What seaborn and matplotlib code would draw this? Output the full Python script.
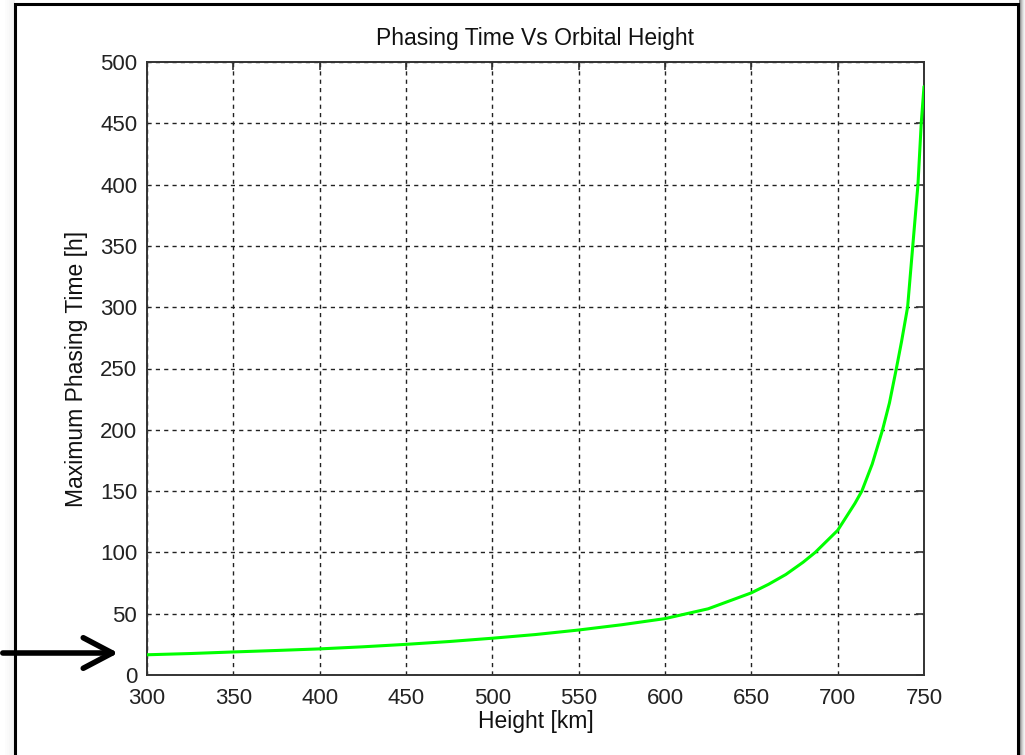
import matplotlib
matplotlib.use("Agg")
import matplotlib.pyplot as plt
from matplotlib.patches import Rectangle, FancyArrowPatch
import seaborn as sns
import pandas as pd

# Orbital height [km] and the corresponding maximum phasing time [h]
height_km = [300, 325, 350, 375, 400, 425, 450, 475, 500, 525, 550, 575, 600,
             625, 650, 660, 670, 680, 687, 700, 710, 714, 720, 726, 730, 734,
             737, 740.5, 743.5, 746.5, 748.4, 750]
phasing_h = [16.5, 17.5, 18.8, 20, 21.3, 23, 25, 27.3, 30, 33, 36.7, 41, 46,
             54, 67, 74, 82, 92, 100, 118, 140, 150, 172, 200, 222, 250,
             272, 300, 350, 400, 450, 480]

x_ticks = [300, 350, 400, 450, 500, 550, 600, 650, 700, 750]
y_ticks = [0, 50, 100, 150, 200, 250, 300, 350, 400, 450, 500]

df = pd.DataFrame({"Height": height_km, "Phasing": phasing_h})

sns.set_style("white")
plt.rcParams["font.family"] = ["Liberation Sans", "DejaVu Sans"]

W, H = 1025, 755
fig = plt.figure(figsize=(W / 100, H / 100), dpi=100)
fig.patch.set_facecolor("white")

# window frame with a soft shadow on the right edge
for i, a in enumerate([0.55, 0.4, 0.28, 0.18, 0.1, 0.05]):
    fig.patches.append(Rectangle(((1019 + i) / W, -0.1), 1 / W, 1.2,
                                 transform=fig.transFigure, facecolor="black",
                                 alpha=a, edgecolor="none", zorder=0))
for i, a in enumerate([0.05, 0.04, 0.03, 0.02, 0.01]):
    fig.patches.append(Rectangle(((13 - 2 * i) / W, -0.1), 2 / W, 1.2,
                                 transform=fig.transFigure, facecolor="black",
                                 alpha=a, edgecolor="none", zorder=0))
fig.patches.append(Rectangle((15 / W, -0.1), (1018 - 15) / W, 1.1 - 4 / H,
                             transform=fig.transFigure, facecolor="none",
                             edgecolor="black", linewidth=2.2, zorder=1))

ax = fig.add_axes([147 / W, 1 - 675 / H, (924 - 147) / W, (675 - 62) / H])
sns.lineplot(data=df, x="Height", y="Phasing", ax=ax, color="#00ff00",
             linewidth=2.2, zorder=3)

ax.set_xlim(300, 750)
ax.set_ylim(0, 500)
ax.set_xticks(x_ticks)
ax.set_yticks(y_ticks)
ax.set_xticklabels([str(v) for v in x_ticks])
ax.set_yticklabels([str(v) for v in y_ticks])

ax.grid(True, color="#222222", linestyle=(0, (3, 3)), linewidth=1.0)
for s in ax.spines.values():
    s.set_color("#333333")
    s.set_linewidth(1.4)

ax.tick_params(direction="in", length=6, width=1.2, color="#333333",
               top=True, right=True, labelsize=16, labelcolor="#222222")
ax.tick_params(axis="y", pad=7)
ax.tick_params(axis="x", pad=9)

ax.set_title("Phasing Time Vs Orbital Height", fontsize=16.5, color="#111111",
             pad=12)
ax.set_xlabel("Height [km]", fontsize=16.5, color="#111111", labelpad=1)
ax.set_ylabel("Maximum Phasing Time [h]", fontsize=16.5, color="#111111",
              labelpad=9)

# pointer to the starting value
fig.add_artist(FancyArrowPatch(
    (0 / W, 1 - 653 / H), (121 / W, 1 - 653 / H),
    transform=fig.transFigure,
    arrowstyle="->, head_length=0.95, head_width=0.5",
    mutation_scale=22, color="black", linewidth=4.0, zorder=5))

fig.savefig("out.png", dpi=100)
